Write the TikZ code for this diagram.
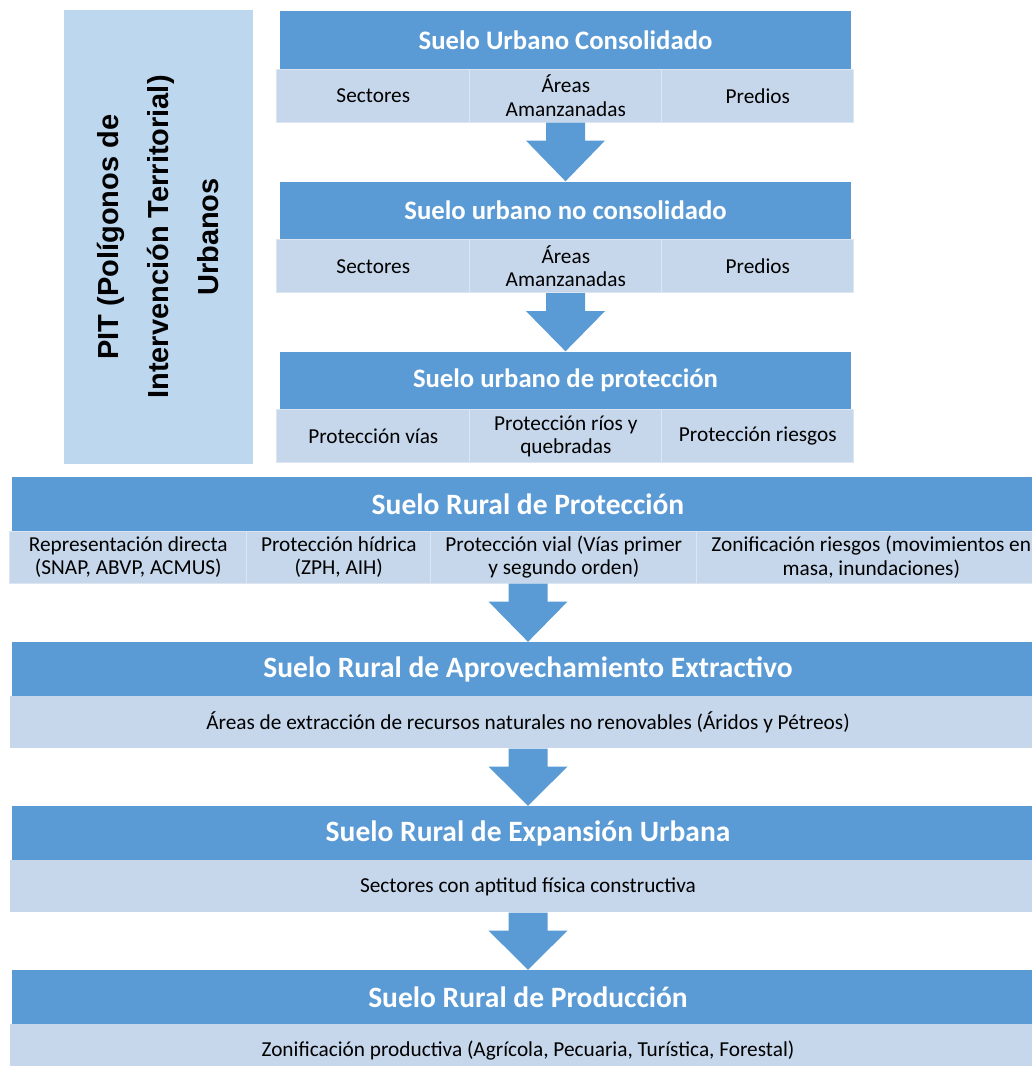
\documentclass[tikz,border=0pt]{standalone}
\usepackage{fontspec}
\setmainfont{Carlito}
\newfontfamily\pitfont{Liberation Sans}
\usepackage{xcolor}
\usetikzlibrary{positioning, calc}

\definecolor{hdrblue}{HTML}{5B9BD5}
\definecolor{rowblue}{HTML}{C6D7EC}
\definecolor{pitblue}{HTML}{BDD7EE}
\definecolor{celledge}{HTML}{DCE6F2}

% block arrow from the bottom of a row down to the next header
\newcommand{\flowarrow}[2]{%
  \fill[hdrblue] let \p1=(#1.south), \p2=(#2.north) in
    (\x1-19.5pt,\y1) -- (\x1+19.5pt,\y1) -- (\x1+19.5pt,\y1-18pt)
    -- (\x1+39.5pt,\y1-18pt) -- (\x1,\y2) -- (\x1-39.5pt,\y1-18pt)
    -- (\x1-19.5pt,\y1-18pt) -- cycle;}

\begin{document}
\begin{tikzpicture}[
  x=1pt, y=-1pt,
  hdr/.style={rectangle, fill=hdrblue, text=white, inner sep=0pt,
              minimum width=571pt, minimum height=58pt,
              font=\bfseries\fontsize{26.7}{30}\selectfont},
  rhdr/.style={hdr, minimum width=1032pt, minimum height=54pt,
               font=\bfseries\fontsize{29.5}{33}\selectfont},
  row/.style={rectangle, fill=rowblue, inner sep=0pt, align=center,
              minimum height=53pt, font=\fontsize{21.3}{24}\selectfont},
  rrow/.style={row, minimum width=1036pt, minimum height=52pt},
  cell/.style={rectangle, fill=rowblue, draw=celledge, line width=1pt,
               inner sep=0pt, outer sep=0pt, align=center,
               minimum height=53pt, font=\fontsize{21.3}{23.5}\selectfont},
  rcell/.style={cell, minimum height=52pt},
  pit/.style={rectangle, fill=pitblue, rotate=90, align=center,
              minimum width=454pt, minimum height=189pt,
              font=\pitfont\bfseries\fontsize{29}{50}\selectfont}
]
\useasboundingbox (0,0) rectangle (1032,1066);
\clip (0,0) rectangle (1032,1066);

%% urban block
\node[pit] (pit) at (158.5,237) {PIT (Polígonos de\\Intervención Territorial)\\Urbanos};

\node[hdr] (uc_hdr) at (565.5,40) {Suelo Urbano Consolidado};
\node[row, minimum width=577pt, below=0pt of uc_hdr] (uc_row) {};
\node[cell, minimum width=193pt, anchor=north west] (uc_a) at (uc_row.north west) {Sectores};
\node[cell, minimum width=192pt, right=0pt of uc_a] (uc_b) {Áreas\\Amanzanadas};
\node[cell, minimum width=192pt, right=0pt of uc_b] (uc_c) {Predios};

\node[hdr] (unc_hdr) at (565.5,210.5) {Suelo urbano no consolidado};
\node[row, minimum width=577pt, below=0pt of unc_hdr] (unc_row) {};
\node[cell, minimum width=193pt, anchor=north west] (unc_a) at (unc_row.north west) {Sectores};
\node[cell, minimum width=192pt, right=0pt of unc_a] (unc_b) {Áreas\\Amanzanadas};
\node[cell, minimum width=192pt, right=0pt of unc_b] (unc_c) {Predios};

\node[hdr] (up_hdr) at (565.5,380.5) {Suelo urbano de protección};
\node[row, minimum width=577pt, below=0pt of up_hdr] (up_row) {};
\node[cell, minimum width=193pt, anchor=north west] (up_a) at (up_row.north west) {Protección vías};
\node[cell, minimum width=192pt, right=0pt of up_a] (up_b) {Protección ríos y\\quebradas};
\node[cell, minimum width=192pt, right=0pt of up_b] (up_c) {Protección riesgos};

%% rural block
\node[rhdr] (rp_hdr) at (528,504) {Suelo Rural de Protección};
\node[rrow, below=0pt of rp_hdr] (rp_row) {};
\node[rcell, minimum width=237pt, anchor=north west] (rp_a) at (rp_row.north west) {Representación directa\\(SNAP, ABVP, ACMUS)};
\node[rcell, minimum width=184pt, right=0pt of rp_a] (rp_b) {Protección hídrica\\(ZPH, AIH)};
\node[rcell, minimum width=266pt, right=0pt of rp_b] (rp_c) {Protección vial (Vías primer\\y segundo orden)};
\node[rcell, minimum width=349pt, right=0pt of rp_c] (rp_d) {Zonificación riesgos (movimientos en\\masa, inundaciones)};

\node[rhdr] (rae_hdr) at (528,669) {Suelo Rural de Aprovechamiento Extractivo};
\node[rrow, below=0pt of rae_hdr] (rae_row) {Áreas de extracción de recursos naturales no renovables (Áridos y Pétreos)};

\node[rhdr] (reu_hdr) at (528,833) {Suelo Rural de Expansión Urbana};
\node[rrow, below=0pt of reu_hdr] (reu_row) {Sectores con aptitud física constructiva};

\node[rhdr] (rpr_hdr) at (528,997) {Suelo Rural de Producción};
\node[rrow, below=0pt of rpr_hdr] (rpr_row) {Zonificación productiva (Agrícola, Pecuaria, Turística, Forestal)};

%% arrows
\flowarrow{uc_row}{unc_hdr}
\flowarrow{unc_row}{up_hdr}
\flowarrow{rp_row}{rae_hdr}
\flowarrow{rae_row}{reu_hdr}
\flowarrow{reu_row}{rpr_hdr}
\end{tikzpicture}
\end{document}
